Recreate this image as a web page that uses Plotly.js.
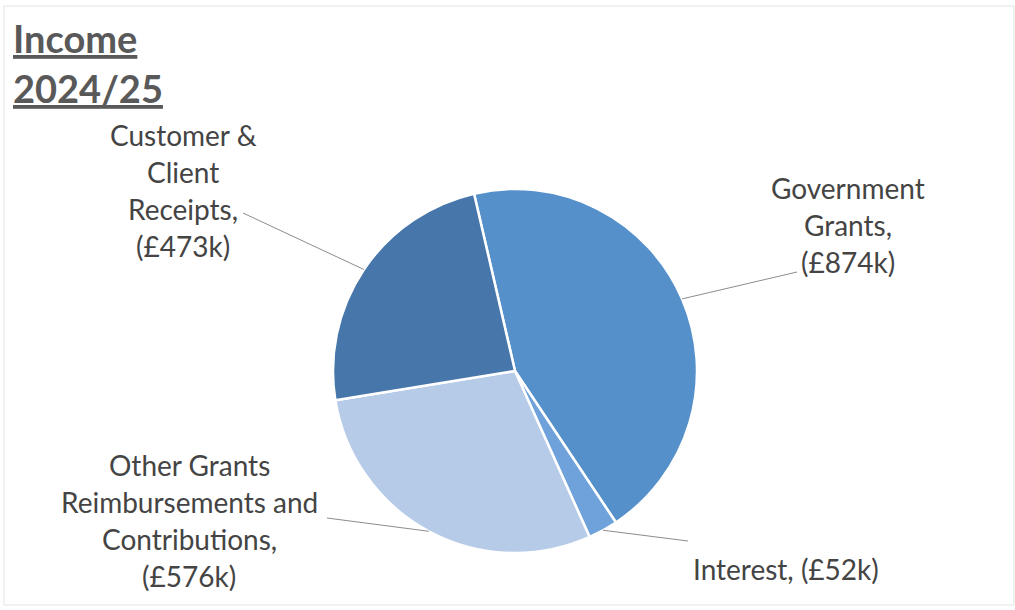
<!DOCTYPE html>
<html>
<head>
<meta charset="utf-8">
<script src="https://cdn.plot.ly/plotly-3.0.1.min.js"></script>
<style>html,body{margin:0;padding:0;background:#fff;}#chart{width:1015px;height:610px;}</style>
</head>
<body>
<div id="chart"></div>
<script>
// ---- data ----
const categories = ["Government Grants", "Interest", "Other Grants Reimbursements and Contributions", "Customer & Client Receipts"];
const values = [874, 52, 576, 473];
const labelLines = [
  ["Government", "Grants,", "(£874k)"],
  ["Interest, (£52k)"],
  ["Other Grants", "Reimbursements and", "Contributions,", "(£576k)"],
  ["Customer &", "Client", "Receipts,", "(£473k)"]
];
const titleLines = ["Income", "2024/25"];

// ---- layout settings (pixels) ----
const W = 1015, H = 610;
const cx = 515, cy = 371, R = 182;
const rotation = -13;
const colors = ["#5590CB", "#6FA2DB", "#B6CBE8", "#4676AA"];
// label block anchor (center x, first line y) and leader-line end near label
const labelPos = [
  {x: 848, y: 188, lx: 797, ly: 272},
  {x: 786, y: 569, lx: 688, ly: 541},
  {x: 189, y: 465, lx: 327, ly: 518},
  {x: 183, y: 135, lx: 243, ly: 213}
];
const lineGap = 37;
const fontFam = "Lato, 'Liberation Sans', sans-serif";
const textColor = "#444444";

const px = x => x / W;
const py = y => 1 - y / H;

const total = values.reduce((a, b) => a + b, 0);
const annotations = [];
const shapes = [];
let start = rotation;
values.forEach((v, i) => {
  const span = v / total * 360;
  const mid = (start + span / 2) * Math.PI / 180;
  start += span;
  const ex = cx + R * Math.sin(mid);
  const ey = cy - R * Math.cos(mid);
  const p = labelPos[i];
  shapes.push({type: "line", xref: "paper", yref: "paper",
    x0: px(ex), y0: py(ey), x1: px(p.lx), y1: py(p.ly),
    line: {color: "#8c8c8c", width: 1}});
  labelLines[i].forEach((t, k) => {
    annotations.push({xref: "paper", yref: "paper", x: px(p.x), y: py(p.y + k * lineGap),
      xanchor: "center", yanchor: "middle", showarrow: false, text: t,
      font: {family: fontFam, size: 28, color: textColor}});
  });
});
titleLines.forEach((t, k) => {
  annotations.push({xref: "paper", yref: "paper", x: px(11), y: py(38 + k * 50),
    xanchor: "left", yanchor: "middle", showarrow: false,
    text: "<b><u>" + t + "</u></b>",
    font: {family: fontFam, size: 38, color: "#595959"}});
});
shapes.push({type: "rect", xref: "paper", yref: "paper",
  x0: px(4), y0: py(6), x1: px(1014), y1: py(605),
  line: {color: "#e3e3e3", width: 1}, layer: "below"});

const trace = {
  type: "pie",
  labels: categories,
  values: values,
  sort: false,
  direction: "clockwise",
  rotation: rotation,
  textinfo: "none",
  hoverinfo: "label+value",
  marker: {colors: colors, line: {color: "#ffffff", width: 2.5}},
  domain: {x: [px(cx - R), px(cx + R)], y: [py(cy + R), py(cy - R)]}
};

Plotly.newPlot("chart", [trace], {
  width: W, height: H,
  margin: {l: 0, r: 0, t: 0, b: 0},
  showlegend: false,
  paper_bgcolor: "#ffffff",
  annotations: annotations,
  shapes: shapes
}, {displayModeBar: false, staticPlot: true});
</script>
</body>
</html>
